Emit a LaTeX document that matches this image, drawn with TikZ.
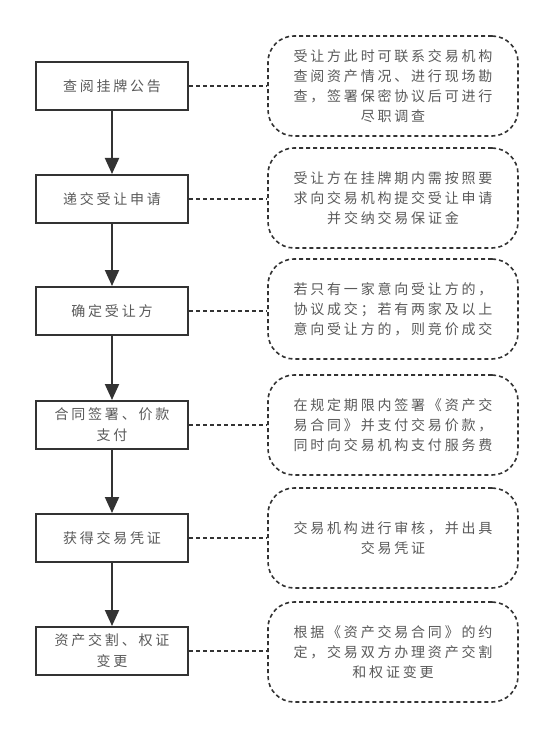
\documentclass[tikz,border=0pt]{standalone}
\usepackage{fontspec}
\newfontfamily\cjk[LetterSpace=20]{Noto Sans CJK SC}
\usetikzlibrary{arrows.meta}
\definecolor{txt}{HTML}{5A5A5A}
\definecolor{ln}{HTML}{333333}
\tikzset{
  stepbox/.style={draw=ln, line width=2pt, minimum width=152pt, minimum height=48pt, inner sep=0pt,
    align=center, font=\cjk\fontsize{14pt}{21pt}\selectfont, text=txt},
  note/.style={draw=ln, line width=1.6pt, dash pattern=on 4pt off 3pt, rounded corners=26pt,
    minimum width=250pt, minimum height=100pt, inner sep=0pt, align=center,
    font=\cjk\fontsize{14pt}{20pt}\selectfont, text=txt},
  flow/.style={draw=ln, line width=2pt, -{Triangle[width=14pt,length=16pt]}},
  link/.style={draw=ln, line width=1.6pt, dash pattern=on 4pt off 3pt},
}
\begin{document}
\begin{tikzpicture}[x=1pt,y=-1pt]
\useasboundingbox[fill=white] (0,0) rectangle (554,738);
\node[stepbox] (b1) at (112,86) {查阅挂牌公告};
\node[stepbox] (b2) at (112,199) {递交受让申请};
\node[stepbox] (b3) at (112,311) {确定受让方};
\node[stepbox] (b4) at (112,425) {合同签署、价款\\支付};
\node[stepbox] (b5) at (112,538) {获得交易凭证};
\node[stepbox] (b6) at (112,651) {资产交割、权证\\变更};

\node[note] (n1) at (393,86) {受让方此时可联系交易机构\\查阅资产情况、进行现场勘\\查，签署保密协议后可进行\\尽职调查};
\node[note] (n2) at (393,198) {受让方在挂牌期内需按照要\\求向交易机构提交受让申请\\并交纳交易保证金};
\node[note] (n3) at (393,309) {若只有一家意向受让方的，\\协议成交；若有两家及以上\\意向受让方的，则竞价成交};
\node[note] (n4) at (393,425) {在规定期限内签署《资产交\\易合同》并支付交易价款，\\同时向交易机构支付服务费};
\node[note] (n5) at (393,538) {交易机构进行审核，并出具\\交易凭证};
\node[note] (n6) at (393,652) {根据《资产交易合同》的约\\定，交易双方办理资产交割\\和权证变更};

\draw[flow] (b1) -- (b2);
\draw[flow] (b2) -- (b3);
\draw[flow] (b3) -- (b4);
\draw[flow] (b4) -- (b5);
\draw[flow] (b5) -- (b6);

\draw[link] (b1.east) -- (b1.east -| n1.west);
\draw[link] (b2.east) -- (b2.east -| n2.west);
\draw[link] (b3.east) -- (b3.east -| n3.west);
\draw[link] (b4.east) -- (b4.east -| n4.west);
\draw[link] (b5.east) -- (b5.east -| n5.west);
\draw[link] (b6.east) -- (b6.east -| n6.west);
\end{tikzpicture}
\end{document}
